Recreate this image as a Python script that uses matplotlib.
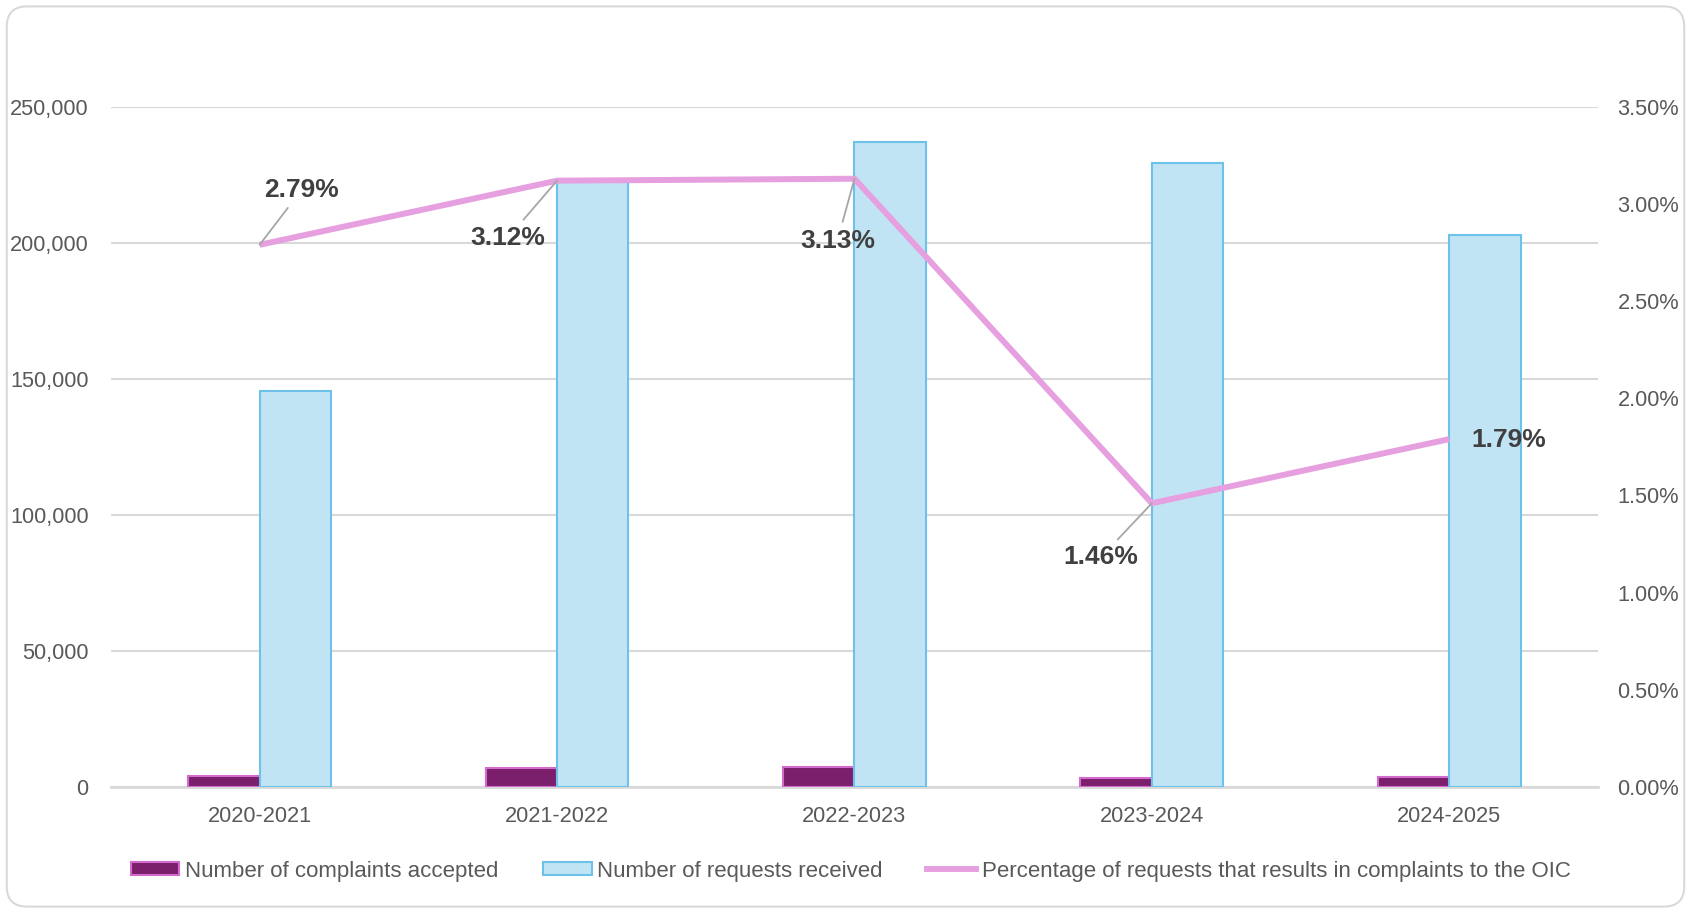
import matplotlib
matplotlib.use("Agg")
import matplotlib.pyplot as plt
from matplotlib.patches import FancyBboxPatch, Patch
from matplotlib.lines import Line2D
from matplotlib.ticker import FuncFormatter, MultipleLocator
import numpy as np

plt.rcParams['font.family'] = ['Liberation Sans', 'DejaVu Sans']

categories = ["2020-2021", "2021-2022", "2022-2023", "2023-2024", "2024-2025"]
complaints = [4060, 6950, 7420, 3350, 3630]
requests = [145400, 222700, 236900, 229400, 202900]
percentages = [2.79, 3.12, 3.13, 1.46, 1.79]
pct_labels = ["2.79%", "3.12%", "3.13%", "1.46%", "1.79%"]
label_offsets = [(42, 55), (-49, -57), (-17, -62), (-51, -54), (59, -1)]
label_leader = [True, True, True, True, False]

fig = plt.figure(figsize=(16.91, 9.13), dpi=100)
fig.patches.append(FancyBboxPatch((0.004, 0.007), 0.992, 0.986, boxstyle="round,pad=0,rounding_size=0.012",
                                  transform=fig.transFigure, facecolor='white', edgecolor='#D9D9D9',
                                  linewidth=1.5, zorder=-10, mutation_aspect=1691/913))
ax = fig.add_axes([0.0656, 0.138, 0.8794, 0.745])
ax.set_facecolor('none')
x = np.arange(len(categories))
w = 0.24
ax.bar(x - w/2, complaints, w, color='#7B1E6B', edgecolor='#D36BCF', linewidth=1.5, zorder=3)
ax.bar(x + w/2, requests, w, color='#C1E4F5', edgecolor='#6DC2EA', linewidth=1.5, zorder=3)
ax.set_xlim(-0.5, 4.5)
ax.set_ylim(0, 250000)
ax.yaxis.set_major_locator(MultipleLocator(50000))
ax.yaxis.set_major_formatter(FuncFormatter(lambda v, p: f"{int(v):,}"))
ax.grid(axis='y', color='#D9D9D9', linewidth=1.5, zorder=0)
ax.set_axisbelow(True)
ax.set_xticks(x)
ax.set_xticklabels(categories)
for s in ['top', 'right', 'left']:
    ax.spines[s].set_visible(False)
ax.spines['bottom'].set_color('#D9D9D9')
ax.spines['bottom'].set_linewidth(2)
ax.tick_params(axis='both', length=0, labelsize=15.7, labelcolor='#595959')
ax.tick_params(axis='x', pad=14)
ax.tick_params(axis='y', pad=16)

ax2 = ax.twinx()
ax2.set_ylim(0, 3.5)
ax2.yaxis.set_major_locator(MultipleLocator(0.5))
ax2.yaxis.set_major_formatter(FuncFormatter(lambda v, p: f"{v:.2f}%"))
for s in ['top', 'right', 'left', 'bottom']:
    ax2.spines[s].set_visible(False)
ax2.tick_params(axis='y', length=0, labelsize=15.7, labelcolor='#595959', pad=14)
ax2.plot(x, percentages, color='#E6A0E0', linewidth=4.3, solid_capstyle='butt', zorder=5)

for xi, yi, lab, off, lead in zip(x, percentages, pct_labels, label_offsets, label_leader):
    kw = {}
    if lead:
        kw['arrowprops'] = dict(arrowstyle='-', color='#A6A6A6', linewidth=1.3, shrinkA=3, shrinkB=0)
    ax2.annotate(lab, xy=(xi, yi), xytext=off, textcoords='offset pixels',
                 ha='center', va='center', fontsize=19, fontweight='bold', color='#404040', zorder=6, **kw)

handles = [Patch(facecolor='#7B1E6B', edgecolor='#D36BCF', linewidth=1.5),
           Patch(facecolor='#C1E4F5', edgecolor='#6DC2EA', linewidth=1.5),
           Line2D([0], [0], color='#E6A0E0', linewidth=4.3)]
labels = ["Number of complaints accepted", "Number of requests received",
          "Percentage of requests that results in complaints to the OIC"]
fig.legend(handles, labels, loc='center', bbox_to_anchor=(0.503, 0.046), ncol=3, frameon=False,
           fontsize=16, labelcolor='#595959', handlelength=2.2, handleheight=0.55,
           handletextpad=0.25, columnspacing=2.0)

fig.savefig("out.png", dpi=100)
